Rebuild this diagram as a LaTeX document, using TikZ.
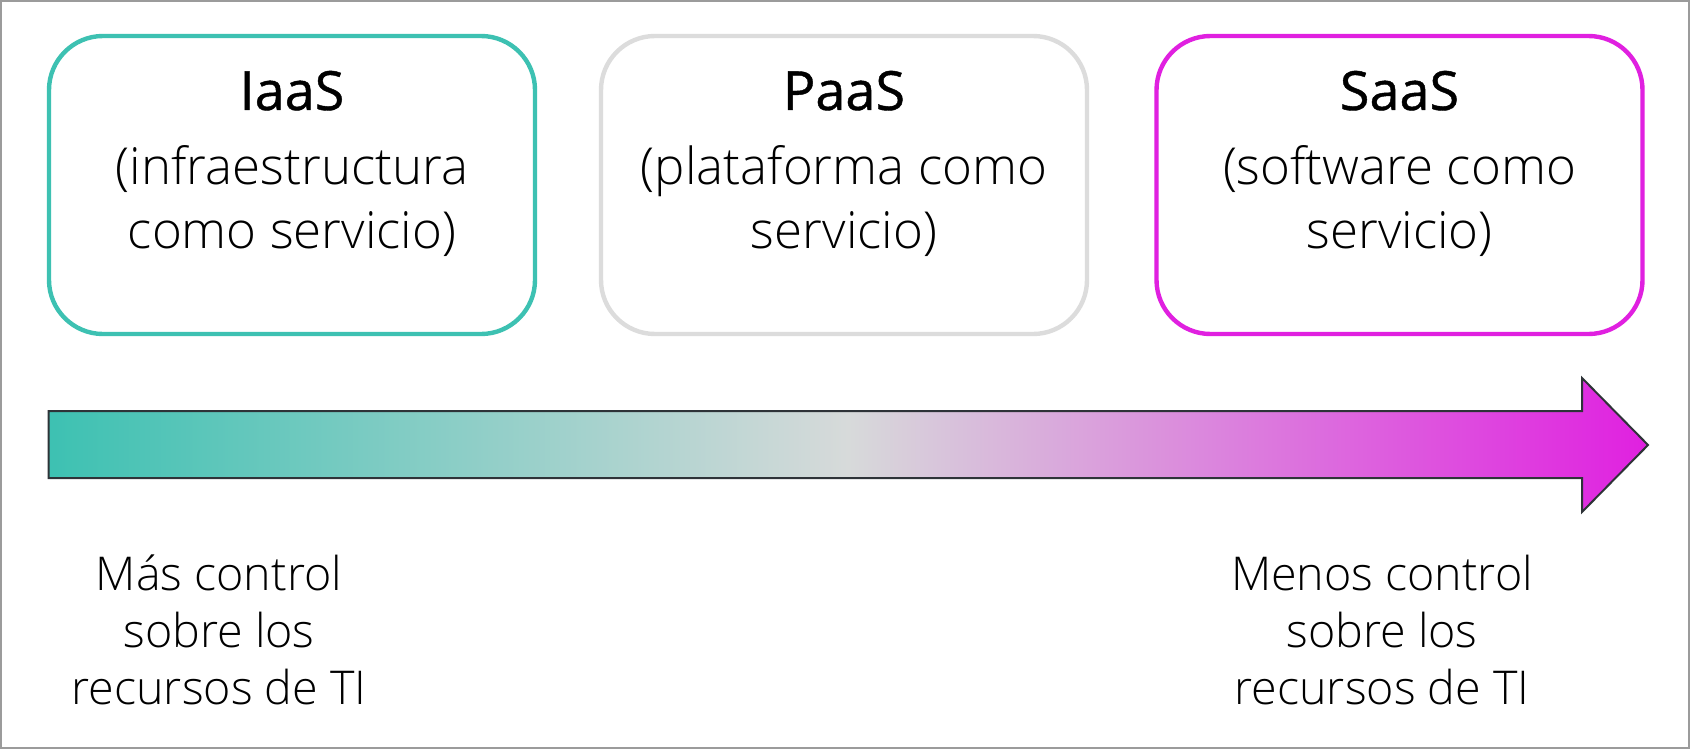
\documentclass[tikz,border=0pt]{standalone}
\usepackage{fontspec}
\setmainfont{Open Sans}[UprightFont=* Light]
\newfontfamily\titlef{Open Sans}[FakeBold=0.8]
\definecolor{iaasC}{HTML}{3DC1B2}
\definecolor{paasC}{HTML}{DCDCDC}
\definecolor{saasC}{HTML}{E020E0}
\definecolor{frameC}{HTML}{9B9B9B}
\definecolor{arrowline}{HTML}{2E3338}
\definecolor{midgray}{HTML}{D7DADA}
\begin{document}
\begin{tikzpicture}[x=0.5pt,y=-0.5pt,
  tier/.style={draw=#1, line width=2.2pt, rounded corners=27pt, minimum width=243pt, minimum height=149pt, inner sep=0pt},
  titletext/.style={font=\titlef\fontsize{27}{30}\selectfont, anchor=base, inner sep=0pt},
  bodytext/.style={font=\fontsize{25.5}{30}\selectfont, anchor=base, inner sep=0pt},
  sidetext/.style={font=\fontsize{23.3}{30}\selectfont, anchor=base, inner sep=0pt}]
\useasboundingbox (0,0) rectangle (1690,749);
\fill[white] (0,0) rectangle (1690,749);
\draw[frameC, line width=1pt] (1,1) rectangle (1689,748);
% boxes
\node[tier=iaasC] (iaas) at (292,185) {};
\node[tier=paasC] (paas) at (844,185) {};
\node[tier=saasC] (saas) at (1399.5,185) {};
% box texts
\node[titletext] (iaasT) at (292,110) {IaaS};
\node[bodytext] (iaas1) at (292,184) {(infraestructura};
\node[bodytext] (iaas2) at (292,248) {como servicio)};
\node[titletext] (paasT) at (844,110) {PaaS};
\node[bodytext] (paas1) at (844,184) {(plataforma como};
\node[bodytext] (paas2) at (844,248) {servicio)};
\node[titletext] (saasT) at (1399.5,110) {SaaS};
\node[bodytext] (saas1) at (1399.5,184) {(software como};
\node[bodytext] (saas2) at (1399.5,248) {servicio)};
% arrow
\shadedraw[left color=iaasC, right color=saasC, middle color=midgray, draw=arrowline, line width=1pt, line join=miter]
  (48.5,411) -- (1582,411) -- (1582,378) -- (1648,445) -- (1582,512) -- (1582,478) -- (48.5,478) -- cycle;
% bottom texts
\node[sidetext] (more1) at (219,590) {Más control};
\node[sidetext] (more2) at (219,647) {sobre los};
\node[sidetext] (more3) at (219,704) {recursos de TI};
\node[sidetext] (less1) at (1382,590) {Menos control};
\node[sidetext] (less2) at (1382,647) {sobre los};
\node[sidetext] (less3) at (1382,704) {recursos de TI};
\end{tikzpicture}
\end{document}
